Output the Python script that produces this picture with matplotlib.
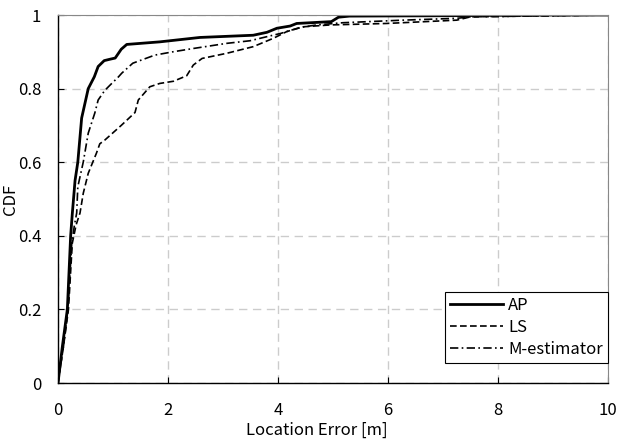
import matplotlib
matplotlib.use("Agg")
import matplotlib.pyplot as plt

plt.rcParams['font.family'] = ['Noto Sans CJK JP', 'DejaVu Sans']

ap_x = [0, 0.08, 0.17, 0.23, 0.26, 0.31, 0.36, 0.43, 0.49, 0.55, 0.66, 0.73, 0.84, 0.95, 1.04, 1.15,
        1.25, 1.85, 2.58, 3.55, 3.8, 3.98, 4.22, 4.34, 4.97, 5.1, 5.3, 7.0, 8.0, 9.0, 10]
ap_y = [0, 0.1, 0.2, 0.4, 0.46, 0.55, 0.6, 0.72, 0.76, 0.8, 0.832, 0.86, 0.876, 0.88, 0.883, 0.907,
        0.92, 0.927, 0.939, 0.945, 0.953, 0.964, 0.97, 0.977, 0.982, 0.994, 0.997, 0.998, 0.999, 1.0, 1.0]

ls_x = [0, 0.1, 0.19, 0.26, 0.33, 0.4, 0.46, 0.55, 0.7, 0.76, 0.85, 1.0, 1.15, 1.4, 1.46, 1.67, 1.85,
        2.1, 2.34, 2.46, 2.62, 3.07, 3.55, 3.92, 4.16, 4.46, 4.95, 5.97, 7.25, 7.5, 9.0, 10]
ls_y = [0, 0.1, 0.2, 0.38, 0.43, 0.462, 0.516, 0.57, 0.625, 0.65, 0.66, 0.68, 0.70, 0.735, 0.769, 0.805,
        0.814, 0.82, 0.835, 0.864, 0.882, 0.896, 0.914, 0.937, 0.955, 0.968, 0.973, 0.977, 0.986, 0.995, 0.998, 1.0]

m_x = [0, 0.1, 0.18, 0.25, 0.3, 0.34, 0.36, 0.46, 0.55, 0.67, 0.73, 0.85, 0.95, 1.1, 1.16, 1.36, 1.76,
       2.09, 2.46, 3.07, 3.49, 3.85, 4.05, 4.4, 4.7, 5.18, 6.27, 7.25, 7.5, 9.0, 10]
m_y = [0, 0.1, 0.2, 0.38, 0.43, 0.462, 0.533, 0.601, 0.679, 0.734, 0.769, 0.795, 0.81, 0.832, 0.842,
       0.869, 0.891, 0.9, 0.909, 0.923, 0.93, 0.943, 0.95, 0.966, 0.973, 0.979, 0.986, 0.991, 0.995, 0.998, 1.0]

x_ticks = [0, 2, 4, 6, 8, 10]
y_ticks = [0, 0.2, 0.4, 0.6, 0.8, 1.0]
y_tick_labels = ['0', '0.2', '0.4', '0.6', '0.8', '1']

fig = plt.figure(figsize=(6.19, 4.41), dpi=100)
ax = fig.add_axes([58/619, 1-383/441, 550/619, 368/441])

ax.plot(ap_x, ap_y, color='black', lw=2.0, ls='-', label='AP')
ax.plot(ls_x, ls_y, color='black', lw=1.2, ls=(0, (4, 2)), label='LS')
ax.plot(m_x, m_y, color='black', lw=1.2, ls=(0, (5, 2, 1, 2)), label='M-estimator')

ax.set_xlim(0, 10)
ax.set_ylim(0, 1)
ax.set_xticks(x_ticks)
ax.set_xticklabels([str(t) for t in x_ticks])
ax.set_yticks(y_ticks)
ax.set_yticklabels(y_tick_labels)
ax.tick_params(direction='in', length=4, width=0.8, labelsize=12)
ax.tick_params(axis='x', pad=14)
ax.tick_params(axis='y', pad=12)
ax.grid(True, color='#cccccc', ls=(0, (6, 4)), lw=1.0)

for s in ['top', 'right']:
    ax.spines[s].set_color('#888888')
for s in ['left', 'bottom']:
    ax.spines[s].set_color('black')
    ax.spines[s].set_linewidth(1.0)

ax.set_xlabel('Location Error [m]', fontsize=12)
ax.xaxis.set_label_coords(0.47, -0.105)
ax.set_ylabel('CDF', fontsize=12)
ax.yaxis.label.set_verticalalignment('center')
ax.yaxis.label.set_horizontalalignment('center')
ax.yaxis.set_label_coords(-0.087, 0.5)

leg = ax.legend(loc='lower right', bbox_to_anchor=(1.0, 0.055), fontsize=12, frameon=True,
                fancybox=False, edgecolor='black', framealpha=1, handlelength=3.2,
                handletextpad=0.3, borderpad=0.3, labelspacing=0.3, borderaxespad=0)
leg.get_frame().set_linewidth(0.8)

fig.savefig('out.png', dpi=100)
